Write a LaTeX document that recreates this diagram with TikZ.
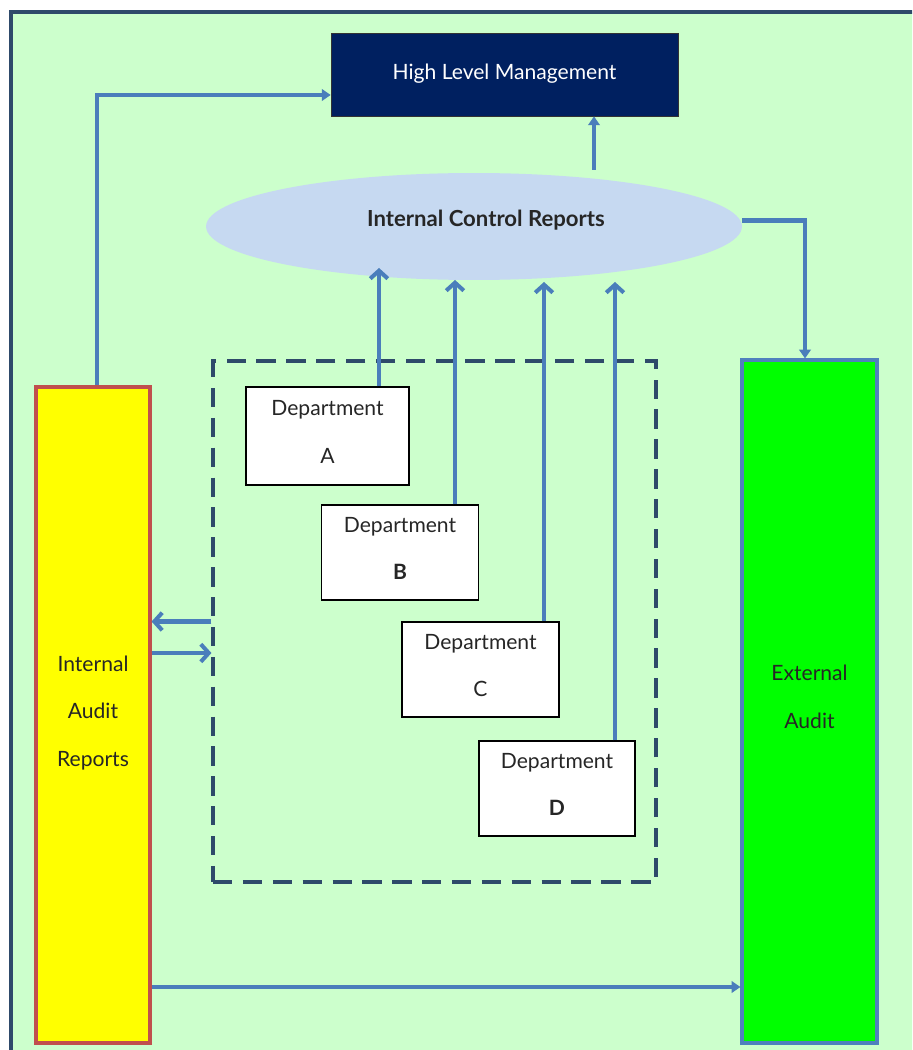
\documentclass[tikz,border=0pt]{standalone}
\usepackage{fontspec}
\setmainfont{Lato}
\usetikzlibrary{positioning, arrows.meta, shapes.geometric}

\definecolor{framegreen}{HTML}{CCFFCC}
\definecolor{frameline}{HTML}{2E4A6A}
\definecolor{navy}{HTML}{002060}
\definecolor{icrblue}{HTML}{C6D9F1}
\definecolor{linkblue}{HTML}{4A7EBB}
\definecolor{auditred}{HTML}{C0504D}
\definecolor{audityellow}{HTML}{FFFF00}
\definecolor{extgreen}{HTML}{00FF00}
\definecolor{extline}{HTML}{4F81BD}
\definecolor{txt}{HTML}{262626}

% depth strut: lifts the text of a node by half of #1
\newcommand{\lift}[1]{\rule[-#1]{0pt}{0pt}}

\tikzset{
    link/.style={draw=linkblue, line width=2.3pt},
    barb/.style={link, -{Straight Barb[length=4.5pt, width=10pt, line width=2.3pt]}},
    tri/.style={link, -{Triangle[length=5pt, width=6.5pt]}},
    dept/.style={draw=black, fill=white, line width=0.6pt, align=center, text=txt, font=\large},
}

\begin{document}
\begin{tikzpicture}[x=0.02cm, y=-0.02cm]
    \clip (0,0) rectangle (912,1050);
    % background frame
    \draw[frameline, line width=2.4pt, fill=framegreen] (11,12) rectangle (940,1080);

    % Nodes
    \node[draw=black!80, fill=navy, text=white, font=\large, minimum width=6.94cm, minimum height=1.66cm] (hlm) at (504.5,74.5) {High Level Management\lift{3.4pt}};
    \node[ellipse, fill=icrblue, text=txt, font=\fontsize{12.6}{15}\selectfont\bfseries, minimum width=10.72cm, minimum height=2.14cm, inner sep=0pt] (icr) at (474,226.5) {\hspace*{0.48cm}Internal Control Reports\lift{9.6pt}};

    \node[draw=frameline, dashed, dash pattern=on 11pt off 6pt, line width=1.8pt, minimum width=8.86cm, minimum height=10.42cm] (grp) at (434.5,621.5) {};

    \node[dept, minimum width=3.26cm, minimum height=1.96cm] (da) at (327.5,436) {Department\\[13pt]A\lift{4.6pt}};
    \node[dept, minimum width=3.14cm, minimum height=1.9cm] (db) at (400,552.5) {Department\\[13pt]\textbf{B}\lift{4.6pt}};
    \node[dept, minimum width=3.14cm, minimum height=1.9cm] (dc) at (480.5,669.5) {Department\\[13pt]C\lift{4.6pt}};
    \node[dept, minimum width=3.12cm, minimum height=1.9cm] (dd) at (557,788.5) {Department\\[13pt]\textbf{D}\lift{4.6pt}};

    \node[draw=auditred, fill=audityellow, line width=1.8pt, align=center, text=txt, font=\large, minimum width=2.28cm, minimum height=13.12cm] (iar) at (93,715) {Internal\\[13pt]Audit\\[13pt]Reports\lift{4.4pt}};
    \node[draw=extline, fill=extgreen, line width=1.8pt, align=center, text=txt, font=\large, minimum width=2.7cm, minimum height=13.66cm] (ext) at (809.5,701.5) {External\\[13pt]Audit\lift{5.6pt}};

    % free ends
    \coordinate (up) at (594,170);
    \coordinate (ta) at (379,268);
    \coordinate (tb) at (455,280);
    \coordinate (tc) at (544,282);
    \coordinate (td) at (615,282);
    \coordinate (g2) at ([yshift=-0.63cm]grp.west);
    \coordinate (low) at (0,987);

    % Connectors
    \draw[tri] (up) -- (up |- hlm.south);
    \draw[tri] (icr.east) ++(0,-6) -| ([xshift=-0.09cm]ext.north);
    \draw[tri] ([xshift=0.08cm]iar.north) |- ([yshift=-0.41cm]hlm.west);
    \draw[barb] (ta |- da.north) -- (ta);
    \draw[barb] (tb |- db.north) -- (tb);
    \draw[barb] (tc |- dc.north) -- (tc);
    \draw[barb] (td |- dd.north) -- (td);
    \draw[barb] (grp.west) -- (grp.west -| iar.east);
    \draw[barb] (g2 -| iar.east) -- (g2);
    \draw[tri] (low -| iar.east) -- (low -| ext.west);
\end{tikzpicture}
\end{document}
